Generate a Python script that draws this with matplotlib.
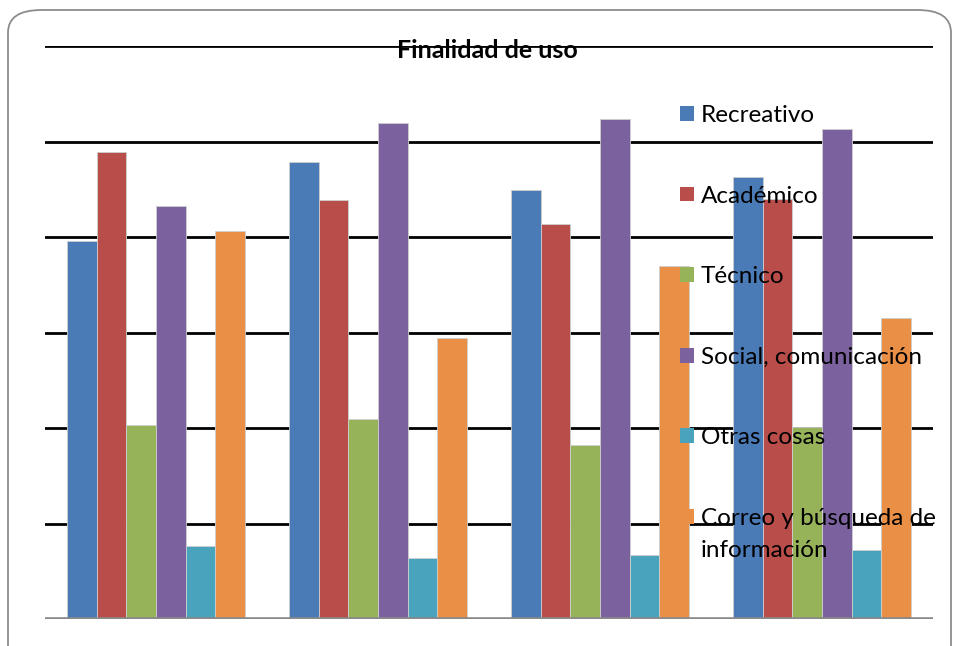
import matplotlib.pyplot as plt
import numpy as np
from matplotlib.patches import FancyBboxPatch

plt.rcParams['font.family'] = ['Lato', 'DejaVu Sans']

# datos (unidades = lineas de cuadricula)
grupos = ['G1', 'G2', 'G3', 'G4']
recreativo = [3.96, 4.79, 4.49, 4.63]
academico = [4.89, 4.39, 4.14, 4.40]
tecnico = [2.03, 2.09, 1.82, 2.01]
social = [4.32, 5.19, 5.24, 5.13]
otras = [0.76, 0.64, 0.67, 0.72]
correo = [4.06, 2.94, 3.70, 3.15]

series = [recreativo, academico, tecnico, social, otras, correo]
nombres = ['Recreativo', 'Académico', 'Técnico', 'Social, comunicación',
           'Otras cosas', 'Correo y búsqueda de']
colores = ['#4A7BB7', '#B94D4A', '#97B35A', '#7B619D', '#4AA3BC', '#E98F46']

fig = plt.figure(figsize=(9.54, 6.46), dpi=100)

# marco redondeado (cortado a la derecha y abajo)
marco = FancyBboxPatch((8 / 954, -0.1), 943 / 954, 1.0 - 10 / 646 + 0.1,
                       boxstyle='round,pad=0,rounding_size=0.035',
                       transform=fig.transFigure, facecolor='none',
                       edgecolor='#8C8C8C', linewidth=1.3, zorder=-1)
fig.patches.append(marco)

ax = fig.add_axes([45 / 954, 27 / 646, 888 / 954, 573 / 646])
ax.set_facecolor('none')

x = np.arange(len(grupos))
ancho = 0.8 / len(series)
barras = []
for i, (vals, nom, col) in enumerate(zip(series, nombres, colores)):
    b = ax.bar(x - 0.4 + ancho * (i + 0.5), vals, ancho, color=col,
               edgecolor='#CFCFCF', linewidth=0.6, label=nom, zorder=3)
    barras.append(b)

for yv in range(1, 7):
    ax.axhline(yv, color='black', linewidth=2.0, zorder=2)
ax.axhline(0, color='#8A8A8A', linewidth=2.6, zorder=4)

ax.set_xlim(-0.5, 3.5)
ax.set_ylim(0, 6)
ax.set_xticks([])
ax.set_yticks([])
for s in ax.spines.values():
    s.set_visible(False)

fig.text(487 / 954, 1 - 50 / 646, 'Finalidad de uso', ha='center', va='center',
         fontsize=18, fontweight='bold', zorder=10)

leg = ax.legend(handles=barras, loc='upper left',
                bbox_to_anchor=(668 / 954, 1 - 93 / 646),
                bbox_transform=fig.transFigure, frameon=False,
                fontsize=17.5, handlelength=0.55, handleheight=0.55,
                handletextpad=0.3, labelspacing=2.45, borderpad=0)
leg.set_zorder(10)
for h in leg.legend_handles:
    h.set_edgecolor('none')

# segunda linea de la ultima entrada de la leyenda
fig.canvas.draw()
bb = leg.get_texts()[-1].get_window_extent()
fig.text(bb.x0 / 954, (bb.y0 - 32 + bb.height / 2) / 646, 'información',
         ha='left', va='center', fontsize=17.5, zorder=10)

fig.savefig('out.png', dpi=100)
